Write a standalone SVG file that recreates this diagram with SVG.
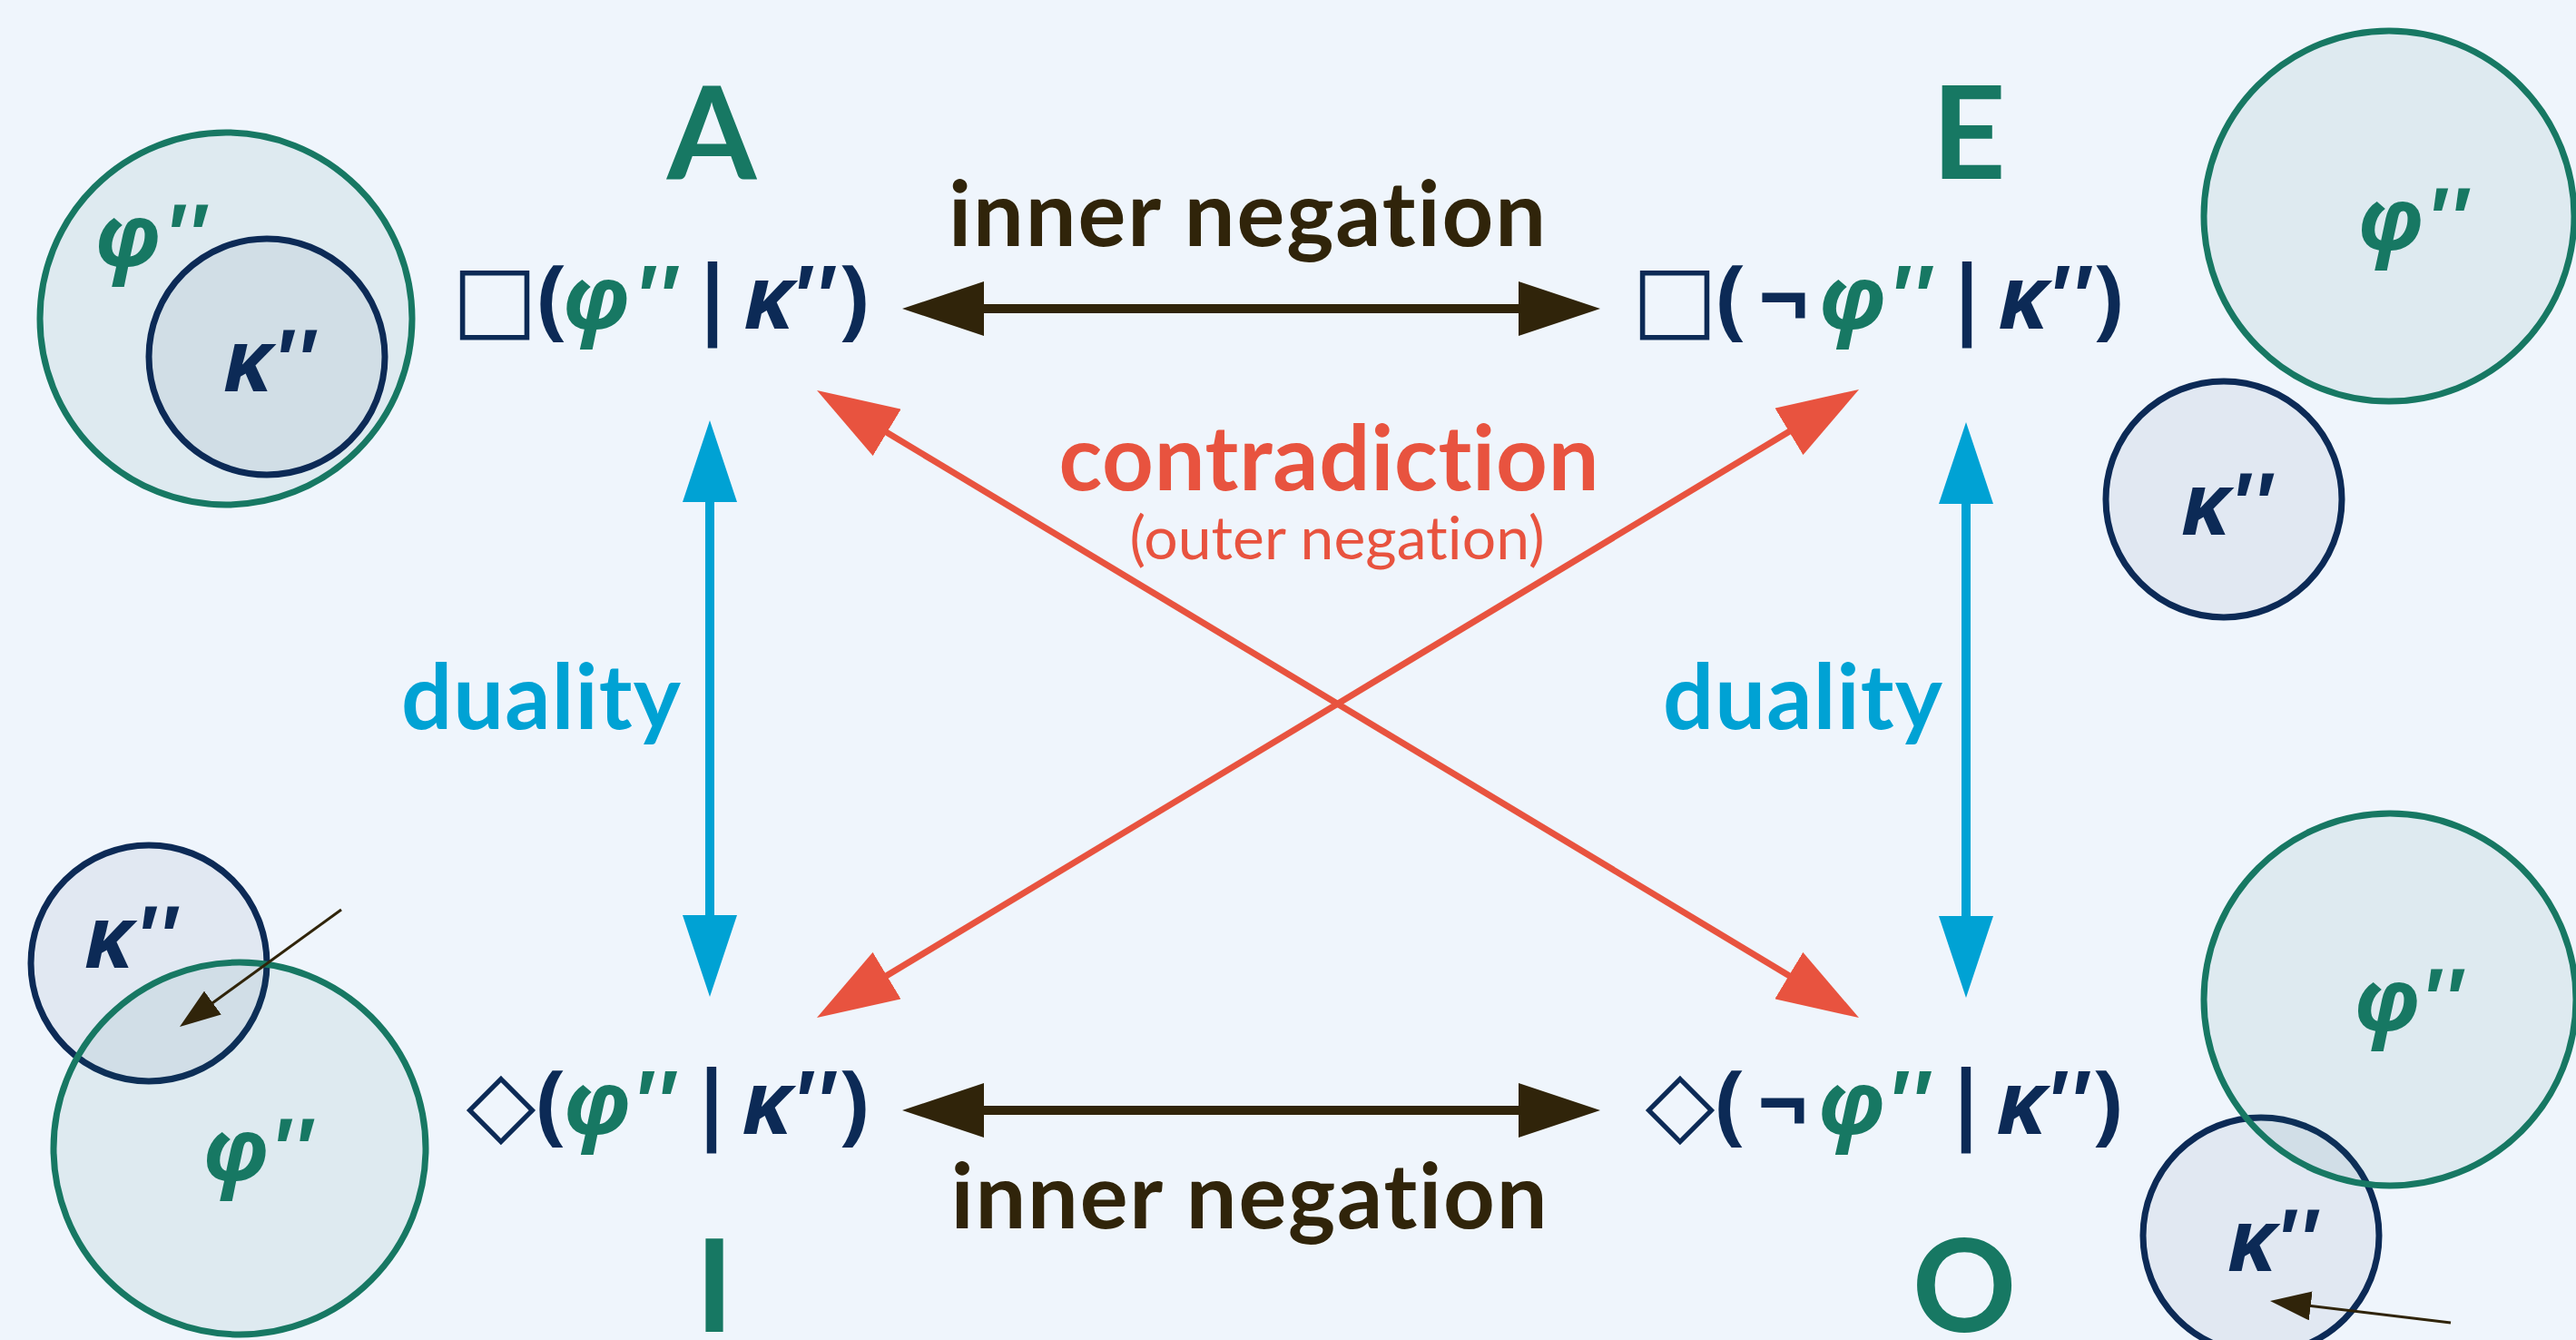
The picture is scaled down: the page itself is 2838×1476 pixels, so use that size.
<svg xmlns="http://www.w3.org/2000/svg" width="2838" height="1476" viewBox="0 0 2838 1476">
<defs>
<style>
.lbl{font-family:Lato,"Noto Sans",sans-serif;font-weight:700;text-anchor:middle;font-variant-ligatures:none;font-feature-settings:"liga" 0,"clig" 0}
.big{font-size:142px;fill:#177863}
.neg{font-size:99px;fill:#30240a}
.con{font-size:99px;fill:#e8533f}
.out{font-size:66px;fill:#e8533f;font-weight:400}
.dua{font-size:99px;fill:#00a2d4}
.f{font-family:"Noto Sans",sans-serif;font-size:97px;font-weight:700;fill:#0c2a56;text-anchor:middle}
.it{font-style:italic}
.tl{fill:#177863}
.sym{font-family:"DejaVu Sans",sans-serif;font-weight:400;font-size:100px}
.cT{fill:#177863;fill-opacity:0.08;stroke:#177863;stroke-width:7}
.cN{fill:#0c2a56;fill-opacity:0.06;stroke:#0c2a56;stroke-width:7}
.vl{font-family:"Noto Sans",sans-serif;font-size:95px;font-weight:700;font-style:italic;text-anchor:middle}
</style>
<marker id="hK" markerUnits="userSpaceOnUse" markerWidth="90" markerHeight="60" refX="45" refY="30" orient="auto-start-reverse"><path d="M0,0L90,30L0,60z" fill="#30240a"/></marker>
<marker id="hB" markerUnits="userSpaceOnUse" markerWidth="90" markerHeight="60" refX="45" refY="30" orient="auto-start-reverse"><path d="M0,0L90,30L0,60z" fill="#00a2d4"/></marker>
<marker id="hR" markerUnits="userSpaceOnUse" markerWidth="90" markerHeight="60" refX="45" refY="30" orient="auto-start-reverse"><path d="M0,0L90,30L0,60z" fill="#e8533f"/></marker>
<marker id="hS" markerUnits="userSpaceOnUse" markerWidth="45" markerHeight="32" refX="30" refY="16" orient="auto"><path d="M0,0L45,16L0,32z" fill="#30240a"/></marker>
</defs>
<rect width="2838" height="1476" fill="#eff5fc"/>

<g id="connectors">
<line x1="1039" y1="340" x2="1718" y2="340" stroke="#30240a" stroke-width="10" marker-start="url(#hK)" marker-end="url(#hK)"/>
<line x1="1039" y1="1223" x2="1718" y2="1223" stroke="#30240a" stroke-width="10" marker-start="url(#hK)" marker-end="url(#hK)"/>
<line x1="782" y1="508" x2="782" y2="1053" stroke="#00a2d4" stroke-width="10" marker-start="url(#hB)" marker-end="url(#hB)"/>
<line x1="2166" y1="510" x2="2166" y2="1054" stroke="#00a2d4" stroke-width="10" marker-start="url(#hB)" marker-end="url(#hB)"/>
<line x1="938.6" y1="453.2" x2="2009.4" y2="1097.8" stroke="#e8533f" stroke-width="7" marker-start="url(#hR)" marker-end="url(#hR)"/>
<line x1="2009.5" y1="452.2" x2="938.5" y2="1097.8" stroke="#e8533f" stroke-width="7" marker-start="url(#hR)" marker-end="url(#hR)"/>
<text class="lbl neg" x="1374" y="271" textLength="658">inner negation</text>
<text class="lbl neg" x="1376" y="1353" textLength="657">inner negation</text>
<text class="lbl con" x="1464" y="540" textLength="595">contradiction</text>
<text class="lbl out" x="1473" y="616" textLength="457">(outer negation)</text>
<text class="lbl dua" x="596" y="803" textLength="308">duality</text>
<text class="lbl dua" x="1986" y="803" textLength="308">duality</text>
</g>

<g id="venn-A">
<circle class="cT" cx="249" cy="351" r="205"/>
<circle class="cN" cx="294" cy="393" r="130"/>
<text class="vl" fill="#177863"><tspan x="141" y="293">φ</tspan><tspan x="204" y="293">''</tspan></text>
<text class="vl" fill="#0c2a56"><tspan x="273" y="431">κ</tspan><tspan x="324" y="431">''</tspan></text>
</g>

<g id="venn-E">
<circle class="cT" cx="2632" cy="238" r="204"/>
<circle class="cN" cx="2450" cy="550" r="130"/>
<text class="vl" fill="#177863"><tspan x="2634" y="275">φ</tspan><tspan x="2696" y="275">''</tspan></text>
<text class="vl" fill="#0c2a56"><tspan x="2430" y="589">κ</tspan><tspan x="2480" y="589">''</tspan></text>
</g>

<g id="venn-I">
<circle class="cN" cx="164" cy="1061" r="130"/>
<circle class="cT" cx="264" cy="1265" r="205"/>
<text class="vl" fill="#0c2a56"><tspan x="120" y="1066">κ</tspan><tspan x="172" y="1066">''</tspan></text>
<text class="vl" fill="#177863"><tspan x="260" y="1300">φ</tspan><tspan x="321" y="1300">''</tspan></text>
<line x1="376" y1="1002" x2="210.1" y2="1122.2" stroke="#30240a" stroke-width="3" marker-end="url(#hS)"/>
</g>

<g id="venn-O">
<circle class="cN" cx="2491" cy="1361" r="130"/>
<circle class="cT" cx="2633" cy="1101" r="205"/>
<text class="vl" fill="#177863"><tspan x="2630" y="1135">φ</tspan><tspan x="2690" y="1135">''</tspan></text>
<text class="vl" fill="#0c2a56"><tspan x="2481" y="1400">κ</tspan><tspan x="2530" y="1400">''</tspan></text>
<line x1="2700" y1="1457" x2="2515.9" y2="1434.8" stroke="#30240a" stroke-width="3" marker-end="url(#hS)"/>
</g>

<g id="node-A">
<text class="lbl big" x="784" y="197">A</text>
<text class="f"><tspan class="sym" x="545" y="362">□</tspan><tspan x="608" y="362">(</tspan><tspan class="it tl" x="657" y="362">φ</tspan><tspan class="it tl" x="722" y="362">''</tspan><tspan x="785" y="362">|</tspan><tspan class="it" x="847" y="362">κ</tspan><tspan class="it" x="895" y="362">''</tspan><tspan x="941" y="362">)</tspan></text>
</g>

<g id="node-E">
<text class="lbl big" x="2169" y="197">E</text>
<text class="f"><tspan class="sym" x="1845" y="362">□</tspan><tspan x="1907" y="362">(</tspan><tspan x="1965" y="362">¬</tspan><tspan class="it tl" x="2041" y="362">φ</tspan><tspan class="it tl" x="2104" y="362">''</tspan><tspan x="2167" y="362">|</tspan><tspan class="it" x="2229" y="362">κ</tspan><tspan class="it" x="2279" y="362">''</tspan><tspan x="2323" y="362">)</tspan></text>
</g>

<g id="node-I">
<text class="lbl big" x="787" y="1467">I</text>
<text class="f"><tspan class="sym" x="552" y="1249">◇</tspan><tspan x="607" y="1249">(</tspan><tspan class="it tl" x="658" y="1249">φ</tspan><tspan class="it tl" x="720" y="1249">''</tspan><tspan x="784" y="1249">|</tspan><tspan class="it" x="845" y="1249">κ</tspan><tspan class="it" x="896" y="1249">''</tspan><tspan x="941" y="1249">)</tspan></text>
</g>

<g id="node-O">
<text class="lbl big" x="2164" y="1467">O</text>
<text class="f"><tspan class="sym" x="1851" y="1249">◇</tspan><tspan x="1906" y="1249">(</tspan><tspan x="1964" y="1249">¬</tspan><tspan class="it tl" x="2040" y="1249">φ</tspan><tspan class="it tl" x="2102" y="1249">''</tspan><tspan x="2166" y="1249">|</tspan><tspan class="it" x="2227" y="1249">κ</tspan><tspan class="it" x="2277" y="1249">''</tspan><tspan x="2322" y="1249">)</tspan></text>
</g>
</svg>
